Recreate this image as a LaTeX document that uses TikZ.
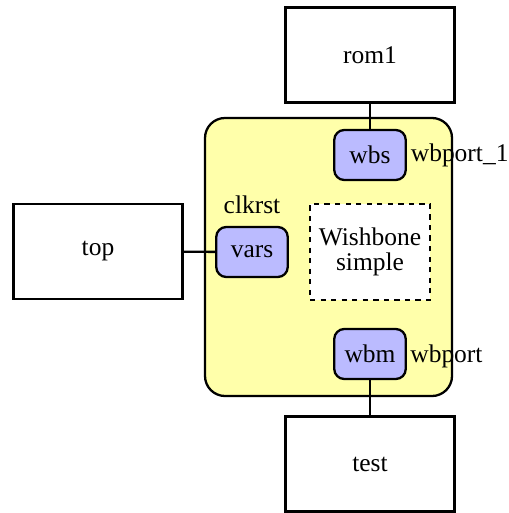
\documentclass[tikz,border=0pt]{standalone}
\usepackage{fontspec}
\setmainfont{LiberationSerif}[Extension=.ttf, UprightFont=*-Regular]
\definecolor{wbyellow}{RGB}{255,255,170}
\definecolor{portblue}{RGB}{187,187,255}
\tikzset{
    inst/.style={draw, line width=1.3pt, fill=white, minimum width=3.38cm,
        minimum height=1.9cm, inner sep=0pt},
    port/.style={draw, line width=1.3pt, fill=portblue, rounded corners=0.2cm,
        minimum width=1.43cm, minimum height=1cm, inner sep=0pt},
    lbl/.style={inner sep=0pt}
}

\begin{document}
\begin{tikzpicture}[font=\fontsize{14.5}{14.5}\selectfont]
        \useasboundingbox (0, 0) rectangle (10.16, -10.26);
        \node [draw, line width=1.3pt, fill=wbyellow, rounded corners=0.4cm,
            minimum width=4.94cm, minimum height=5.56cm] (wb) at (6.57, -5.14) {};
        \node [draw, line width=1.3pt, dashed, fill=white, minimum width=2.4cm,
            minimum height=1.92cm, inner sep=0pt, align=center] (desc) at (7.4, -5.04)
            {Wishbone\\simple};
        \node [inst] (rom1) at (7.4, -1.1) {rom1};
        \node [inst] (top) at (1.96, -5.03) {top};
        \node [inst] (test) at (7.4, -9.28) {test};
        \node [port] (wbs) at (7.4, -3.1) {wbs};
        \node [port] (vars) at (5.04, -5.04) {vars};
        \node [port] (wbm) at (7.4, -7.08) {wbm};
        \node [lbl, anchor=west] (wbsname) at (8.21, -3.1) {wbport\_1};
        \node [lbl, anchor=west] (wbmname) at (8.2, -7.13) {wbport};
        \node [lbl] (varsname) at (5.04, -4.1) {clkrst};
        \draw [line width=1.3pt] (rom1) -- (wbs);
        \draw [line width=1.3pt] (top) -- (vars);
        \draw [line width=1.3pt] (wbm) -- (test); % port to instance
    \end{tikzpicture}
\end{document}
